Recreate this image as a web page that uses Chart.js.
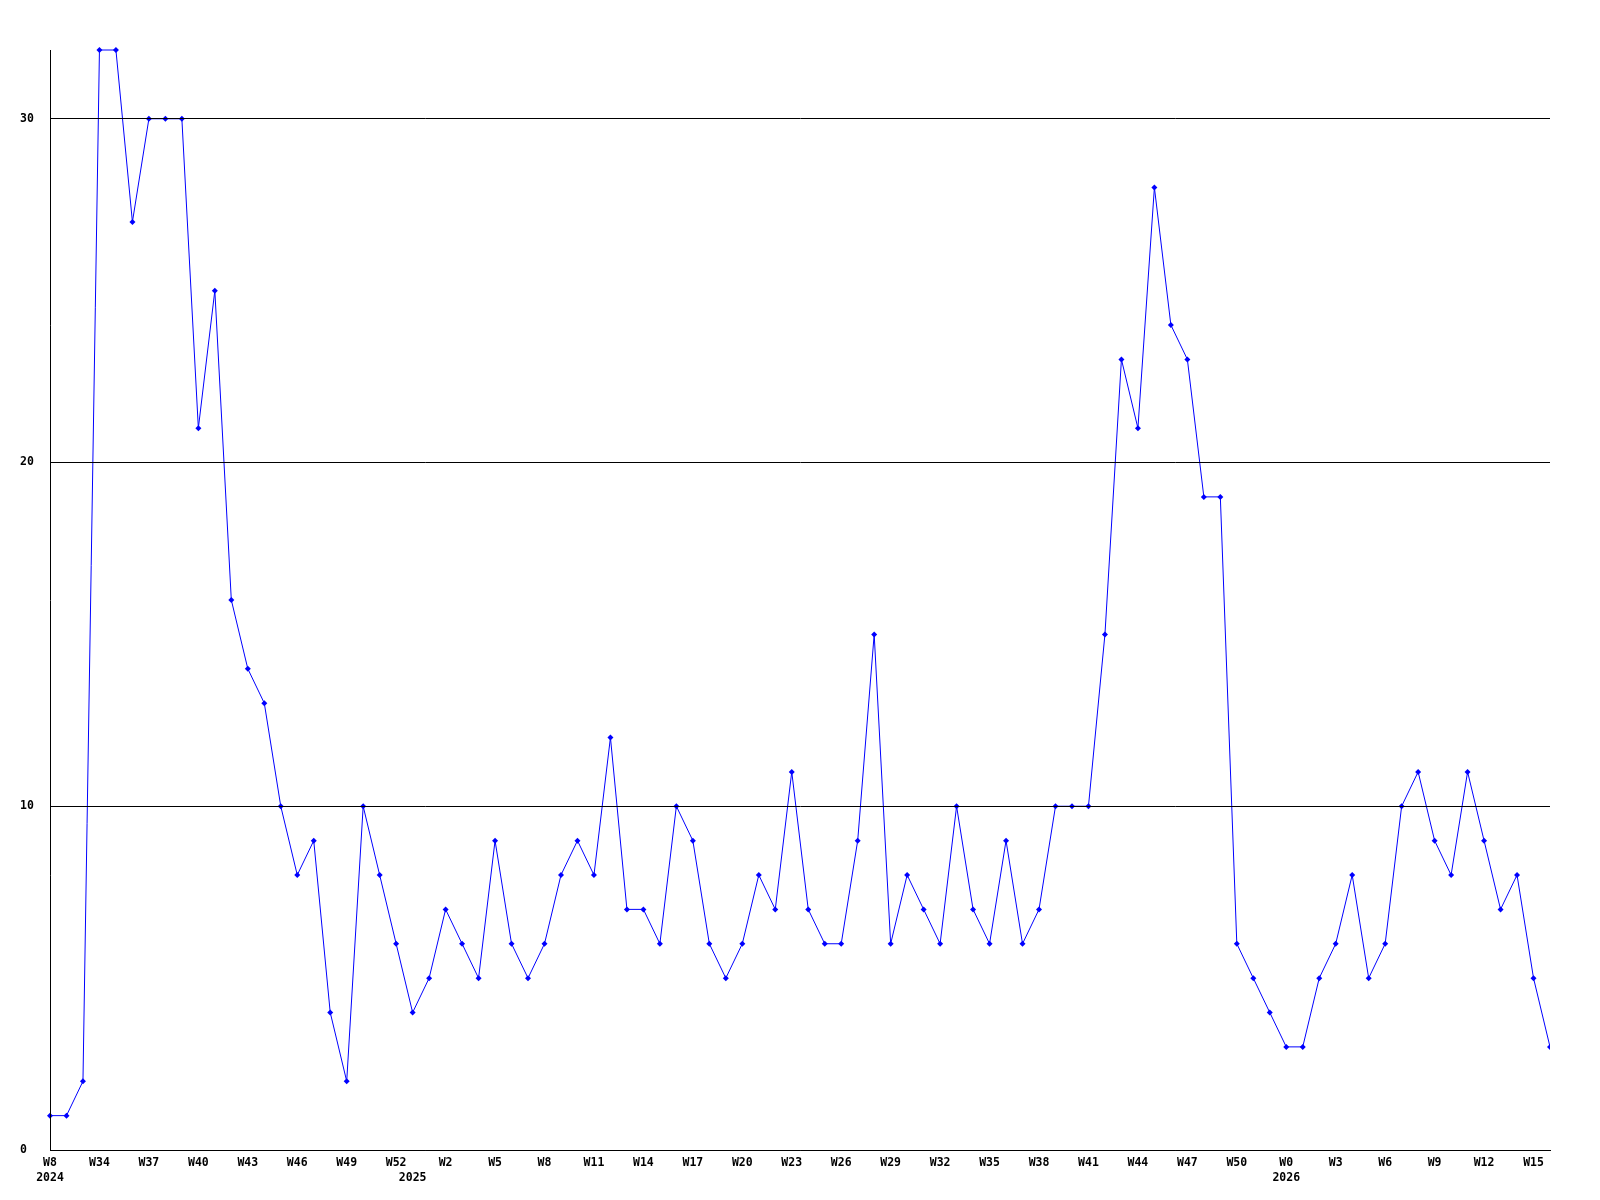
<!DOCTYPE html>
<html>
<head>
<meta charset="utf-8">
<script src="https://cdn.jsdelivr.net/npm/chart.js@4.4.1/dist/chart.umd.min.js"></script>
<style>
  html, body { margin: 0; padding: 0; background: #fff; }
  .graphBox { width: 1600px; height: 1200px; }
</style>
</head>
<body>
<div class="graphBox">
  <canvas id="chart" width="1600" height="1200"></canvas>
</div>
<script>
// weekly counts, one per week
const values = [
  1, 1, 2, 32, 32, 27, 30, 30, 30, 21,
  25, 16, 14, 13, 10, 8, 9, 4, 2, 10,
  8, 6, 4, 5, 7, 6, 5, 9, 6, 5,
  6, 8, 9, 8, 12, 7, 7, 6, 10, 9,
  6, 5, 6, 8, 7, 11, 7, 6, 6, 9,
  15, 6, 8, 7, 6, 10, 7, 6, 9, 6,
  7, 10, 10, 10, 15, 23, 21, 28, 24, 23,
  19, 19, 6, 5, 4, 3, 3, 5, 6, 8,
  5, 6, 10, 11, 9, 8, 11, 9, 7, 8,
  5, 3
];

// a week label on every third point
const weekTicks = [
  'W8', 'W34', 'W37', 'W40', 'W43', 'W46', 'W49', 'W52', 'W2', 'W5',
  'W8', 'W11', 'W14', 'W17', 'W20', 'W23', 'W26', 'W29', 'W32', 'W35',
  'W38', 'W41', 'W44', 'W47', 'W50', 'W0', 'W3', 'W6', 'W9', 'W12', 'W15'
];
const yearTickIndex = [0, 22, 75];
const yearTickText = ['2024', '2025', '2026'];
const yTicks = [0, 10, 20, 30];

const categories = values.map((v, i) => i);

const tickFont = {
  family: '"DejaVu Sans Mono", "Liberation Mono", monospace',
  size: 11.5,
  weight: 'bold',
  lineHeight: 1.35
};

const tickLabel = (i) => {
  const week = i % 3 === 0 ? weekTicks[i / 3] || '' : '';
  const y = yearTickIndex.indexOf(i);
  if (y >= 0) return [week, yearTickText[y]];
  return week;
};

new Chart(document.getElementById('chart'), {
  type: 'line',
  data: {
    labels: categories,
    datasets: [{
      data: values,
      borderColor: '#0000ff',
      backgroundColor: '#0000ff',
      borderWidth: 1,
      pointStyle: 'rectRot',
      pointRadius: 3,
      pointBorderWidth: 0,
      tension: 0,
      fill: false,
      clip: { left: 5, top: 5, right: 0, bottom: 5 }
    }]
  },
  options: {
    responsive: false,
    animation: false,
    events: [],
    layout: { padding: { left: 20, right: 50, top: 50, bottom: 0 } },
    plugins: { legend: { display: false }, tooltip: { enabled: false } },
    scales: {
      x: {
        offset: false,
        grid: { display: false },
        border: { display: true, color: '#000', width: 1 },
        ticks: {
          autoSkip: false,
          maxRotation: 0,
          padding: -3,
          color: '#000',
          font: tickFont,
          callback: (v, i) => tickLabel(i)
        },
        afterFit: (scale) => { scale.height = 50; }
      },
      y: {
        min: 0,
        max: 32,
        // gridlines sit on top of the line, as in the original
        grid: { color: '#000', lineWidth: 1, drawTicks: false, z: 1 },
        border: { display: true, color: '#000', width: 1, z: 1 },
        ticks: {
          crossAlign: 'far',
          color: '#000',
          font: tickFont,
          padding: 0
        },
        afterBuildTicks: (scale) => { scale.ticks = yTicks.map(v => ({ value: v })); },
        afterFit: (scale) => { scale.width = 30; }
      }
    }
  }
});
</script>
</body>
</html>
